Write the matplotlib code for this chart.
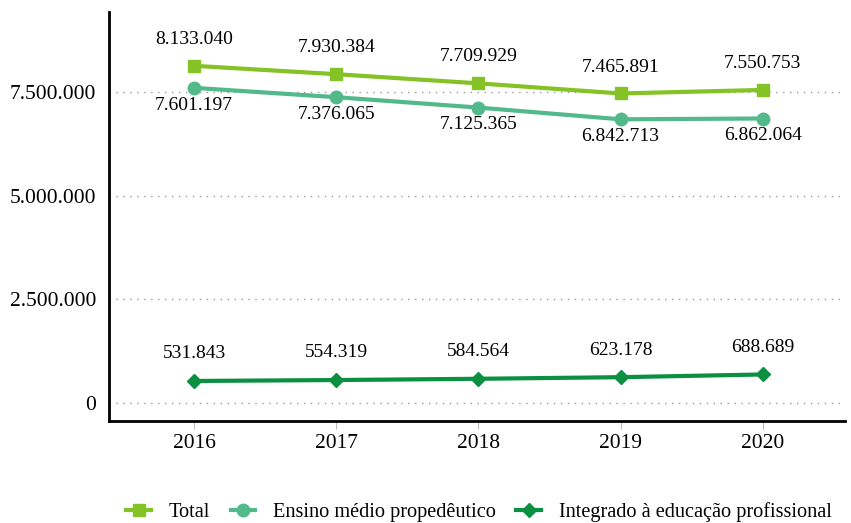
import matplotlib
matplotlib.use("Agg")
import matplotlib.pyplot as plt
from matplotlib.ticker import FuncFormatter

anos = [2016, 2017, 2018, 2019, 2020]
total = [8133040, 7930384, 7709929, 7465891, 7550753]
propedeutico = [7601197, 7376065, 7125365, 6842713, 6862064]
integrado = [531843, 554319, 584564, 623178, 688689]

plt.rcParams['font.family'] = ['Liberation Serif', 'DejaVu Serif']

def fmt(v):
    return "{:,}".format(int(v)).replace(",", ".")

fig = plt.figure(figsize=(8.51, 5.23), dpi=100)
ax = fig.add_axes([0.128, 0.195, 0.865, 0.782])

c_total = "#84c225"
c_prop = "#52b98a"
c_int = "#0a9040"

ax.plot(anos, total, color=c_total, lw=3, marker="s", ms=8, label="Total")
ax.plot(anos, propedeutico, color=c_prop, lw=3, marker="o", ms=9, label="Ensino médio propedêutico")
ax.plot(anos, integrado, color=c_int, lw=3, marker="D", ms=7, label="Integrado à educação profissional")

for x, v in zip(anos, total):
    ax.annotate(fmt(v), (x, v), xytext=(0, 19), textcoords="offset points", ha="center", va="center", fontsize=14)
for x, v in zip(anos, propedeutico):
    ax.annotate(fmt(v), (x, v), xytext=(0, -12.5), textcoords="offset points", ha="center", va="center", fontsize=14)
for x, v in zip(anos, integrado):
    ax.annotate(fmt(v), (x, v), xytext=(0, 19.5), textcoords="offset points", ha="center", va="center", fontsize=14)

ax.set_xlim(2015.40, 2020.58)
ax.set_ylim(-434000, 9430000)
ax.set_xticks(anos)
ax.set_yticks([0, 2500000, 5000000, 7500000])
ax.yaxis.set_major_formatter(FuncFormatter(lambda v, p: fmt(v)))
ax.tick_params(axis="y", length=0, labelsize=15.5, pad=9)
ax.tick_params(axis="x", length=6, color="#bbbbbb", labelsize=15.5, pad=3)
ax.grid(axis="y", linestyle=(0, (1, 4)), color="#999999", lw=1)
for s in ["top", "right"]:
    ax.spines[s].set_visible(False)
ax.spines["left"].set_linewidth(2)
ax.spines["bottom"].set_linewidth(2)

fig.legend(loc="lower center", bbox_to_anchor=(0.563, -0.033), ncol=3, frameon=False, fontsize=14.6,
           handlelength=1.2, columnspacing=1.0, handletextpad=0.9)

fig.savefig("out.png", dpi=100)
